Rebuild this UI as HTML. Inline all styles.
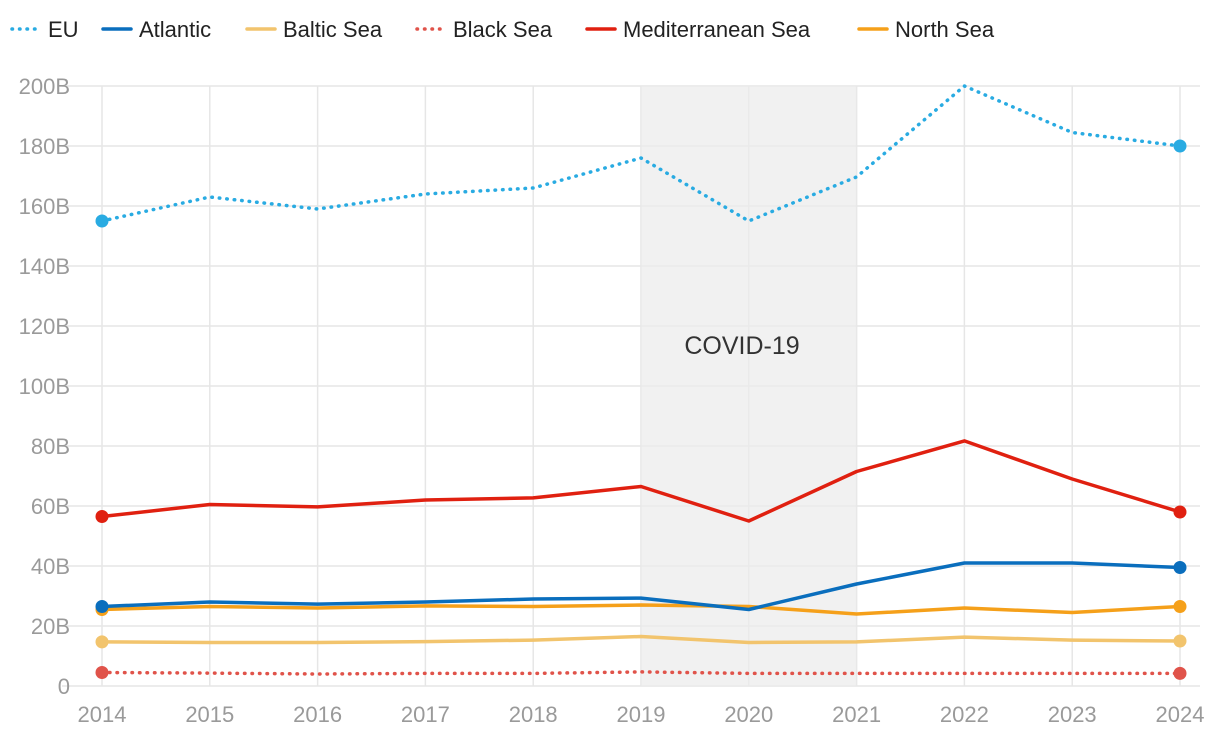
<!DOCTYPE html>
<html><head><meta charset="utf-8"><style>
body{margin:0;background:#fff;font-family:"Liberation Sans",sans-serif}
svg text{font-family:"Liberation Sans",sans-serif}
</style></head><body>
<svg id="chart" width="1220" height="738" xmlns="http://www.w3.org/2000/svg">
<g id="grid"></g><g id="band"></g><g id="lines"></g><g id="axes"></g><g id="legend"></g>
</svg>
<script>
const years=[2014,2015,2016,2017,2018,2019,2020,2021,2022,2023,2024];
const yTicks=[0,20,40,60,80,100,120,140,160,180,200];
const euVals=[155,163,159,164,166,176,155,169.7,200,184.5,180];
const atlanticVals=[26.5,28,27.3,28,29,29.3,25.5,34,41,41,39.5];
const balticVals=[14.7,14.5,14.5,14.8,15.3,16.5,14.5,14.7,16.3,15.3,15];
const blackVals=[4.5,4.3,4,4.2,4.2,4.7,4.2,4.2,4.2,4.2,4.2];
const medVals=[56.5,60.5,59.7,62,62.7,66.5,55,71.5,81.7,69,58];
const northVals=[25.5,26.5,26,26.7,26.5,27,26.5,24,26,24.5,26.5];
const covidStart=2019, covidEnd=2021;
const NS="http://www.w3.org/2000/svg";
const x=v=>102+(v-2014)*107.8;
const y=v=>686-v*3;
function mk(tag,attrs,parent){const e=document.createElementNS(NS,tag);for(const k in attrs)e.setAttribute(k,attrs[k]);parent.appendChild(e);return e;}
const grid=document.getElementById('grid'),band=document.getElementById('band'),lines=document.getElementById('lines'),axes=document.getElementById('axes'),legend=document.getElementById('legend');
yTicks.forEach(t=>{
 const l=mk('line',{x1:62,x2:1200,y1:y(t),y2:y(t),stroke:'#e6e6e6','stroke-width':1.5},grid);
 
 
 const tx=mk('text',{x:70,y:y(t)+8,'text-anchor':'end','font-size':22,fill:'#9a9a9a'},axes);
 tx.textContent=t===0?'0':t+'B';
 
 
});
years.forEach(yr=>{
 const l=mk('line',{x1:x(yr),x2:x(yr),y1:86,y2:686,stroke:'#e6e6e6','stroke-width':1.5},grid);
 
 
 const tx=mk('text',{x:x(yr),y:722,'text-anchor':'middle','font-size':22,fill:'#9a9a9a'},axes);
 tx.textContent=yr;
 
 
});
const r=mk('rect',{x:x(covidStart),y:86,width:x(covidEnd)-x(covidStart),height:600,fill:'#ebebeb','fill-opacity':0.7},band);


const ct=mk('text',{x:742,y:354,'text-anchor':'middle','font-size':25,fill:'#333'},band);
ct.textContent='COVID-19';


const DOT='0.5 7';
const series=[
 {name:'EU',vals:euVals,color:'#29abe2',dash:DOT,key:'eu'},
 {name:'Atlantic',vals:atlanticVals,color:'#0a6ebd',dash:'',key:'atlantic'},
 {name:'Baltic Sea',vals:balticVals,color:'#f2c46d',dash:'',key:'baltic-sea'},
 {name:'Black Sea',vals:blackVals,color:'#e0534a',dash:DOT,key:'black-sea'},
 {name:'Mediterranean Sea',vals:medVals,color:'#e02010',dash:'',key:'mediterranean-sea'},
 {name:'North Sea',vals:northVals,color:'#f5a01a',dash:'',key:'north-sea'}];
const order=[2,3,5,1,4,0];
order.forEach(i=>{const s=series[i];
 const d=s.vals.map((v,j)=>(j?'L':'M')+x(years[j])+','+y(v)).join(' ');
 const p=mk('path',{d:d,fill:'none',stroke:s.color,'stroke-width':3.5,'stroke-dasharray':s.dash,'stroke-linecap':s.dash?'round':'butt','stroke-linejoin':'round'},lines);
 
 
 [0,s.vals.length-1].forEach(j=>{
  const c=mk('circle',{cx:x(years[j]),cy:y(s.vals[j]),r:6.5,fill:s.color},lines);
  
  
 });
});
const lx=[10,101,245,415,585,857];
series.forEach((s,i)=>{
 const g=mk('g',{},legend);
 
 
 mk('line',{x1:lx[i]+2,x2:lx[i]+30,y1:29,y2:29,stroke:s.color,'stroke-width':3.5,'stroke-dasharray':s.dash,'stroke-linecap':'round'},g);
 const t=mk('text',{x:lx[i]+38,y:37,'font-size':22,fill:'#222'},g);
 t.textContent=s.name;
});
</script>
</body></html>
